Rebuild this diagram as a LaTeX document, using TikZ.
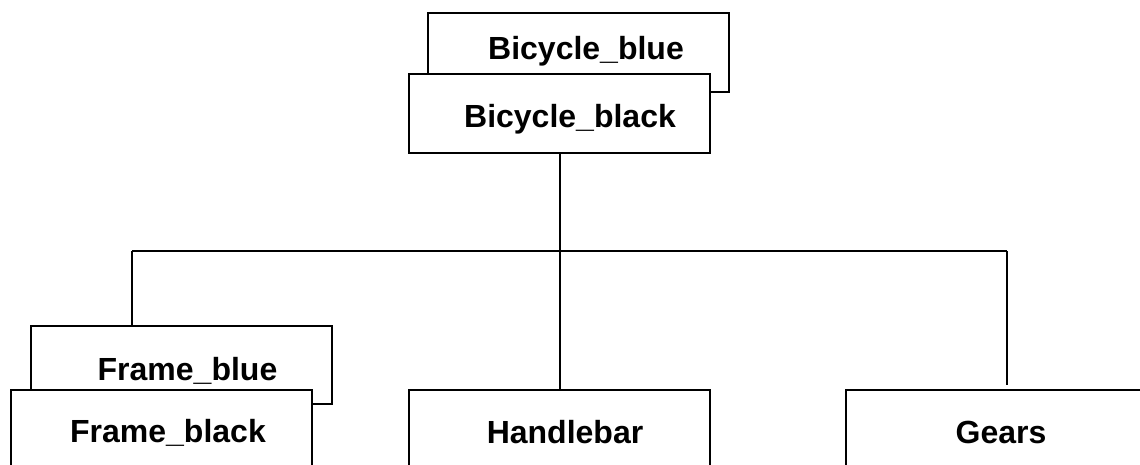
\documentclass[tikz,border=0pt]{standalone}
\usepackage{fontspec}
\setmainfont{Liberation Sans}
\usetikzlibrary{calc}
\begin{document}
\begin{tikzpicture}[x=1pt,y=-1pt,
  box/.style={draw=black, line width=2pt, fill=white, rectangle, inner sep=0pt,
    minimum width=301pt, minimum height=79pt},
  txt/.style={font=\fontsize{32}{36}\selectfont\bfseries, inner sep=0pt, anchor=base},
  conn/.style={draw=black, line width=2pt}]
\useasboundingbox (0,0) rectangle (1140,464);
\clip (0,0) rectangle (1140,464);
% top
\node[box] (bbl) at (578.5,52) {};
\node[txt] (bblt) at (586,59) {Bicycle\_blue};
\node[box] (bbk) at (559.5,113.5) {};
\node[txt] (bbkt) at (570,127) {Bicycle\_black};
% bottom
\node[box, minimum height=78pt] (fbl) at (181,365) {};
\node[txt] (fblt) at (187.5,380) {Frame\_blue};
\node[box, minimum height=80pt] (fbk) at (161.5,430) {};
\node[txt] (fbkt) at (168,442) {Frame\_black};
\node[box, minimum height=80pt] (hb) at (559.5,430) {};
\node[txt] (hbt) at (565,443) {Handlebar};
\node[box, minimum height=80pt] (gr) at (996,430) {};
\node[txt] (grt) at (1001,443) {Gears};
% connectors
\coordinate (jl) at (132,251);
\coordinate (jr) at (1007,251);
\coordinate (gtop) at (1007,385);
\draw[conn] (bbk.south) -- (hb.north);
\draw[conn] (jl) -- (jr);
\draw[conn] (jl) -- (jl |- fbl.north);
\draw[conn] (jr) -- (gtop);
\end{tikzpicture}
\end{document}
